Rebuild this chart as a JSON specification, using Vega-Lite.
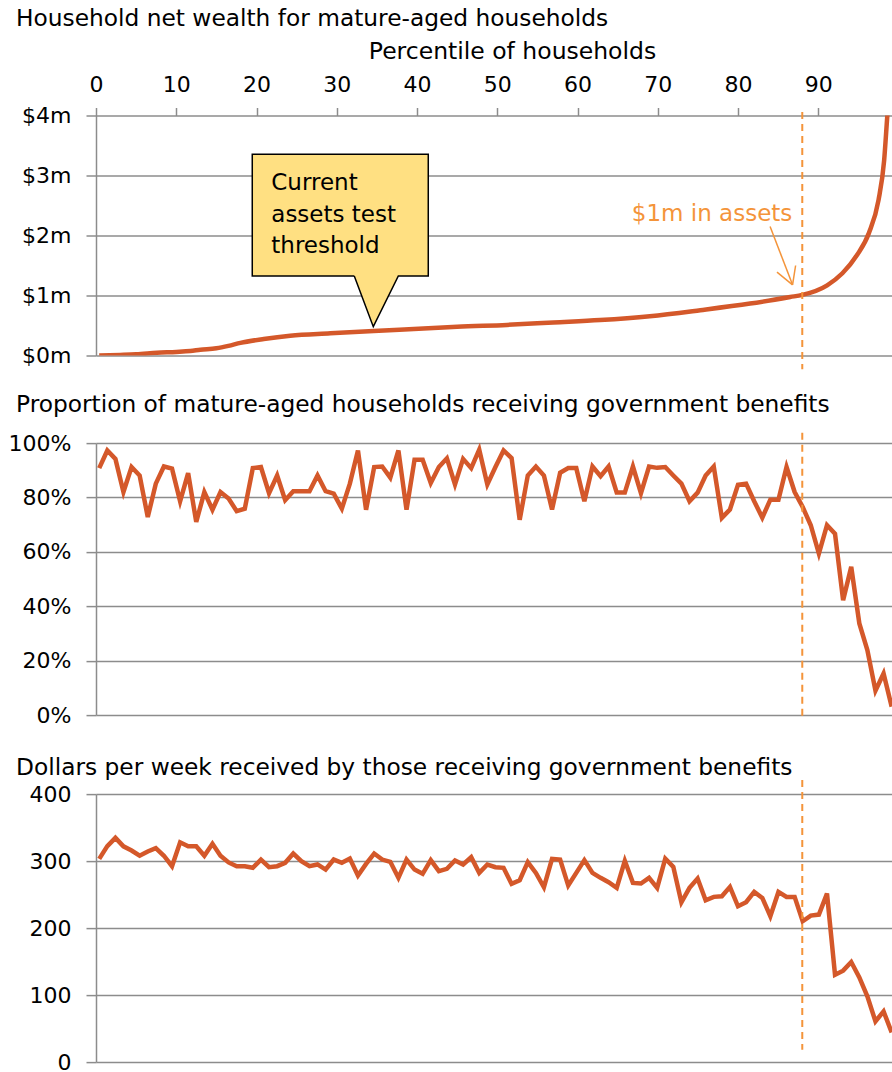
{
  "$schema": "https://vega.github.io/schema/vega-lite/v6.json",
  "padding": {"left": 8, "top": 6.5, "right": 0, "bottom": 0},
  "spacing": 21.6,
  "config": {
    "font": "DejaVu Sans",
    "view": {"stroke": null},
    "title": {"font": "DejaVu Sans", "fontSize": 23.3, "fontWeight": "normal", "anchor": "start", "frame": "group", "color": "#000000"},
    "axis": {
      "labelFont": "DejaVu Sans", "labelFontSize": 22, "labelColor": "#000000",
      "titleFont": "DejaVu Sans", "titleFontSize": 23.5, "titleFontWeight": "normal", "titleColor": "#000000",
      "domainColor": "#8c8c8c", "tickColor": "#8c8c8c", "gridColor": "#8c8c8c",
      "domainWidth": 1.5, "tickWidth": 1.5, "gridWidth": 1.5, "gridOpacity": 1
    }
  },
  "datasets": {
    "wealth": [
      {"p": 0.4, "v": 0}, {"p": 3, "v": 0.01}, {"p": 5, "v": 0.02}, {"p": 7.6, "v": 0.045},
      {"p": 10, "v": 0.06}, {"p": 11.75, "v": 0.075}, {"p": 13, "v": 0.095}, {"p": 15, "v": 0.12},
      {"p": 16.5, "v": 0.16}, {"p": 18, "v": 0.21}, {"p": 20.9, "v": 0.275}, {"p": 24.2, "v": 0.33},
      {"p": 29.2, "v": 0.37}, {"p": 34.6, "v": 0.41}, {"p": 40.8, "v": 0.45}, {"p": 45, "v": 0.48},
      {"p": 51.2, "v": 0.51}, {"p": 57, "v": 0.55}, {"p": 62.8, "v": 0.59}, {"p": 69, "v": 0.655},
      {"p": 75.3, "v": 0.755}, {"p": 81.5, "v": 0.865}, {"p": 86.5, "v": 0.975}, {"p": 88, "v": 1.01},
      {"p": 91.1, "v": 1.17}, {"p": 93, "v": 1.37}, {"p": 94.8, "v": 1.67}, {"p": 96.3, "v": 2.04},
      {"p": 97.5, "v": 2.59}, {"p": 98.2, "v": 3.25}, {"p": 98.6, "v": 4.0}, {"p": 99.2, "v": 5.0}
    ],
    "pct": [
      {"p": 0.40, "s": 90.8, "d": 303.3}, {"p": 1.41, "s": 97.3, "d": 322.3}, {"p": 2.42, "s": 94.2, "d": 334.7},
      {"p": 3.42, "s": 82.0, "d": 322.0}, {"p": 4.43, "s": 91.2, "d": 315.8}, {"p": 5.44, "s": 88.1, "d": 308.0},
      {"p": 6.45, "s": 72.8, "d": 314.4}, {"p": 7.45, "s": 85.1, "d": 319.4}, {"p": 8.46, "s": 91.4, "d": 308.0},
      {"p": 9.47, "s": 90.6, "d": 292.4}, {"p": 10.48, "s": 78.6, "d": 328.0}, {"p": 11.48, "s": 89.0, "d": 322.0},
      {"p": 12.49, "s": 71.0, "d": 322.0}, {"p": 13.50, "s": 82.0, "d": 308.0}, {"p": 14.51, "s": 75.5, "d": 325.8},
      {"p": 15.51, "s": 82.0, "d": 308.0}, {"p": 16.52, "s": 79.6, "d": 298.0}, {"p": 17.53, "s": 75.0, "d": 292.4},
      {"p": 18.54, "s": 75.9, "d": 292.4}, {"p": 19.54, "s": 90.8, "d": 290.0}, {"p": 20.55, "s": 91.2, "d": 302.3},
      {"p": 21.56, "s": 81.6, "d": 291.0}, {"p": 22.57, "s": 88.1, "d": 292.4}, {"p": 23.57, "s": 79.0, "d": 297.4},
      {"p": 24.58, "s": 82.3, "d": 311.3}, {"p": 25.59, "s": 82.3, "d": 300.0}, {"p": 26.60, "s": 82.3, "d": 292.4},
      {"p": 27.60, "s": 88.1, "d": 295.0}, {"p": 28.61, "s": 82.3, "d": 287.4}, {"p": 29.62, "s": 81.4, "d": 302.3},
      {"p": 30.63, "s": 75.9, "d": 297.4}, {"p": 31.63, "s": 85.1, "d": 303.8}, {"p": 32.64, "s": 97.3, "d": 278.4},
      {"p": 33.65, "s": 75.5, "d": 295.9}, {"p": 34.66, "s": 91.2, "d": 311.3}, {"p": 35.66, "s": 91.4, "d": 302.3},
      {"p": 36.67, "s": 87.3, "d": 298.9}, {"p": 37.68, "s": 97.3, "d": 275.0}, {"p": 38.69, "s": 75.5, "d": 302.3},
      {"p": 39.69, "s": 93.9, "d": 287.4}, {"p": 40.70, "s": 93.9, "d": 281.0}, {"p": 41.71, "s": 85.3, "d": 301.4},
      {"p": 42.72, "s": 91.2, "d": 285.0}, {"p": 43.72, "s": 94.4, "d": 288.4}, {"p": 44.73, "s": 84.8, "d": 300.9},
      {"p": 45.74, "s": 94.2, "d": 294.9}, {"p": 46.75, "s": 90.8, "d": 305.8}, {"p": 47.75, "s": 97.6, "d": 282.4},
      {"p": 48.76, "s": 84.8, "d": 294.9}, {"p": 49.77, "s": 91.2, "d": 290.9}, {"p": 50.78, "s": 97.3, "d": 290.0},
      {"p": 51.78, "s": 94.5, "d": 266.0}, {"p": 52.79, "s": 71.8, "d": 271.5}, {"p": 53.80, "s": 88.1, "d": 298.4},
      {"p": 54.81, "s": 91.4, "d": 282.4}, {"p": 55.81, "s": 88.1, "d": 261.0}, {"p": 56.82, "s": 75.6, "d": 303.3},
      {"p": 57.83, "s": 89.1, "d": 302.3}, {"p": 58.84, "s": 90.8, "d": 263.5}, {"p": 59.84, "s": 90.8, "d": 282.4},
      {"p": 60.85, "s": 78.6, "d": 301.4}, {"p": 61.86, "s": 91.4, "d": 282.4}, {"p": 62.87, "s": 87.8, "d": 275.0},
      {"p": 63.87, "s": 91.4, "d": 268.5}, {"p": 64.88, "s": 81.8, "d": 260.0}, {"p": 65.89, "s": 81.8, "d": 300.4},
      {"p": 66.90, "s": 91.4, "d": 267.5}, {"p": 67.90, "s": 81.6, "d": 266.5}, {"p": 68.91, "s": 91.4, "d": 275.0},
      {"p": 69.92, "s": 90.9, "d": 260.0}, {"p": 70.93, "s": 91.2, "d": 303.8}, {"p": 71.93, "s": 88.1, "d": 291.4},
      {"p": 72.94, "s": 85.1, "d": 238.6}, {"p": 73.95, "s": 78.6, "d": 260.0}, {"p": 74.96, "s": 81.8, "d": 274.0},
      {"p": 75.96, "s": 88.1, "d": 241.6}, {"p": 76.97, "s": 91.4, "d": 246.6}, {"p": 77.98, "s": 72.5, "d": 247.6},
      {"p": 78.99, "s": 75.6, "d": 261.5}, {"p": 79.99, "s": 84.7, "d": 232.6}, {"p": 81.00, "s": 85.1, "d": 238.6},
      {"p": 82.01, "s": 78.6, "d": 254.0}, {"p": 83.02, "s": 72.6, "d": 245.0}, {"p": 84.02, "s": 79.2, "d": 217.7},
      {"p": 85.03, "s": 79.2, "d": 254.0}, {"p": 86.04, "s": 91.2, "d": 246.6}, {"p": 87.05, "s": 82.0, "d": 246.6},
      {"p": 88.05, "s": 76.5, "d": 210.2}, {"p": 89.06, "s": 69.8, "d": 218.7}, {"p": 90.07, "s": 59.4, "d": 220.2},
      {"p": 91.08, "s": 69.8, "d": 251.5}, {"p": 92.08, "s": 66.7, "d": 130.5}, {"p": 93.09, "s": 42.2, "d": 136.5},
      {"p": 94.10, "s": 54.5, "d": 149.4}, {"p": 95.11, "s": 33.7, "d": 126.5}, {"p": 96.11, "s": 23.9, "d": 98.1},
      {"p": 97.12, "s": 9.0, "d": 60.8}, {"p": 98.13, "s": 15.3, "d": 75.7}, {"p": 99.14, "s": 3.1, "d": 44.3}
    ]
  },
  "vconcat": [
    {
      "width": 796,
      "height": 240,
      "title": {"text": "Household net wealth for mature-aged households", "dx": -80, "offset": 8.5},
      "encoding": {
        "x": {
          "field": "p", "type": "quantitative",
          "scale": {"domain": [0, 99.18], "nice": false, "zero": false},
          "axis": {"orient": "top", "title": "Percentile of households", "titleX": 416, "titleAlign": "center", "values": [0, 10, 20, 30, 40, 50, 60, 70, 80, 90], "tickSize": 8, "labelPadding": 11, "domain": false, "grid": false, "titlePadding": 10, "labelFlush": false}
        },
        "y": {
          "field": "v", "type": "quantitative",
          "scale": {"domain": [0, 4], "nice": false, "zero": false},
          "axis": {"title": null, "values": [0, 1, 2, 3, 4], "labelExpr": "'$' + datum.value + 'm'", "tickSize": 10, "labelPadding": 15, "grid": true, "domain": true}
        }
      },
      "layer": [
        {
          "data": {"name": "wealth"},
          "mark": {"type": "line", "color": "#D4582A", "strokeWidth": 4.5, "interpolate": "monotone", "clip": true}
        },
        {
          "data": {"values": [{"p": 88, "v": 4.06, "v2": -0.23}]},
          "mark": {"type": "rule", "color": "#F4943A", "strokeWidth": 2, "strokeDash": [7, 5]},
          "encoding": {"y2": {"field": "v2"}}
        },
        {
          "data": {"values": [{"p": 19.47, "p2": 41.40, "v": 3.353, "v2": 1.325}]},
          "mark": {"type": "rect", "color": "#FFE082"},
          "encoding": {"x2": {"field": "p2"}, "y2": {"field": "v2"}}
        },
        {
          "data": {"values": [
            {"p": 32.18, "v": 1.325, "v2": 1.34},
            {"p": 34.55, "v": 0.48, "v2": 1.34},
            {"p": 37.67, "v": 1.325, "v2": 1.34}
          ]},
          "mark": {"type": "area", "color": "#FFE082", "interpolate": "linear"},
          "encoding": {"y2": {"field": "v2"}}
        },
        {
          "data": {"values": [
            {"ord": 1, "p": 32.18, "v": 1.325},
            {"ord": 2, "p": 34.55, "v": 0.48},
            {"ord": 3, "p": 37.67, "v": 1.325},
            {"ord": 4, "p": 41.40, "v": 1.325},
            {"ord": 5, "p": 41.40, "v": 3.353},
            {"ord": 6, "p": 19.47, "v": 3.353},
            {"ord": 7, "p": 19.47, "v": 1.325},
            {"ord": 8, "p": 32.18, "v": 1.325}
          ]},
          "mark": {"type": "line", "color": "#000000", "strokeWidth": 1.5, "strokeJoin": "miter"},
          "encoding": {"order": {"field": "ord", "type": "quantitative"}}
        },
        {
          "data": {"values": [{"p": 21.84, "v": 2.758, "label": "Current\nassets test\nthreshold"}]},
          "mark": {"type": "text", "align": "left", "baseline": "alphabetic", "fontSize": 23, "lineBreak": "\n", "lineHeight": 31.7, "color": "#000000"},
          "encoding": {"text": {"field": "label"}}
        },
        {
          "data": {"values": [{"p": 86.76, "v": 2.247, "label": "$1m in assets"}]},
          "mark": {"type": "text", "align": "right", "baseline": "alphabetic", "fontSize": 23, "color": "#F4943A"},
          "encoding": {"text": {"field": "label"}}
        },
        {
          "data": {"values": [
            {"p": 83.99, "v": 2.150, "p2": 86.79, "v2": 1.178},
            {"p": 84.85, "v": 1.390, "p2": 86.79, "v2": 1.178},
            {"p": 87.17, "v": 1.500, "p2": 86.79, "v2": 1.178}
          ]},
          "mark": {"type": "rule", "color": "#F4943A", "strokeWidth": 1.5},
          "encoding": {"x2": {"field": "p2"}, "y2": {"field": "v2"}}
        }
      ]
    },
    {
      "spacing": 30,
      "vconcat": [
        {
          "width": 796,
          "height": 272,
          "title": {"text": "Proportion of mature-aged households receiving government benefits", "dx": -80, "offset": 14.8},
          "encoding": {
            "x": {"field": "p", "type": "quantitative", "scale": {"domain": [0, 99.18], "nice": false, "zero": false}, "axis": null},
            "y": {
              "field": "s", "type": "quantitative",
              "scale": {"domain": [0, 100], "nice": false, "zero": false},
              "axis": {"title": null, "values": [0, 20, 40, 60, 80, 100], "labelExpr": "datum.value + '%'", "tickSize": 10, "labelPadding": 15, "grid": true, "domain": true}
            }
          },
          "layer": [
            {
              "data": {"name": "pct"},
              "mark": {"type": "line", "color": "#D4582A", "strokeWidth": 4.5, "clip": true}
            },
            {
              "data": {"values": [{"p": 88, "s": 103.8, "s2": -1.1}]},
              "mark": {"type": "rule", "color": "#F4943A", "strokeWidth": 2, "strokeDash": [7, 5]},
              "encoding": {"y2": {"field": "s2"}}
            }
          ]
        },
        {
          "width": 796,
          "height": 268,
          "title": {"text": "Dollars per week received by those receiving government benefits", "dx": -80, "offset": -1.6},
          "encoding": {
            "x": {"field": "p", "type": "quantitative", "scale": {"domain": [0, 99.18], "nice": false, "zero": false}, "axis": null},
            "y": {
              "field": "d", "type": "quantitative",
              "scale": {"domain": [0, 400], "nice": false, "zero": false},
              "axis": {"title": null, "values": [0, 100, 200, 300, 400], "tickSize": 10, "labelPadding": 15, "grid": true, "domain": true}
            }
          },
          "layer": [
            {
              "data": {"name": "pct"},
              "mark": {"type": "line", "color": "#D4582A", "strokeWidth": 4.5, "clip": true}
            },
            {
              "data": {"values": [{"p": 88, "d": 421, "d2": 18.4}]},
              "mark": {"type": "rule", "color": "#F4943A", "strokeWidth": 2, "strokeDash": [7, 5]},
              "encoding": {"y2": {"field": "d2"}}
            }
          ]
        }
      ]
    }
  ]
}
